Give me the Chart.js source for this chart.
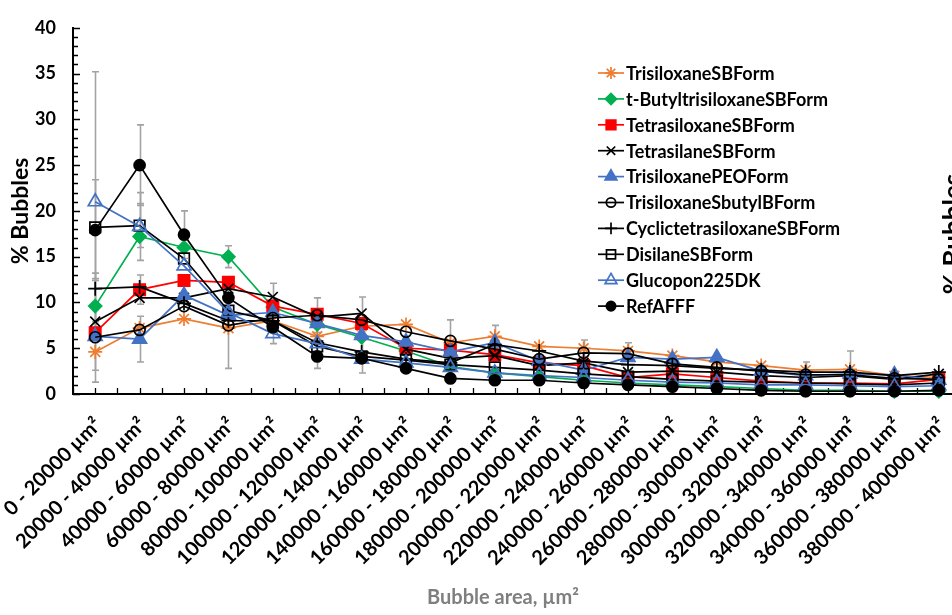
<!DOCTYPE html>
<html>
<head>
<meta charset="utf-8">
<script src="https://cdn.jsdelivr.net/npm/chart.js@4/dist/chart.umd.min.js"></script>
<style>
  html, body { margin: 0; padding: 0; background: #fff; width: 952px; height: 615px; overflow: hidden; }
  #wrap { position: relative; width: 975px; height: 615px; }
</style>
</head>
<body>
<div id="wrap"><canvas id="c" width="975" height="615"></canvas></div>
<script>
// Bubble area classes
const categories = [
  '0 - 20000 µm²', '20000 - 40000 µm²', '40000 - 60000 µm²', '60000 - 80000 µm²',
  '80000 - 100000 µm²', '100000 - 120000 µm²', '120000 - 140000 µm²', '140000 - 160000 µm²',
  '160000 - 180000 µm²', '180000 - 200000 µm²', '200000 - 220000 µm²', '220000 - 240000 µm²',
  '240000 - 260000 µm²', '260000 - 280000 µm²', '280000 - 300000 µm²', '300000 - 320000 µm²',
  '320000 - 340000 µm²', '340000 - 360000 µm²', '360000 - 380000 µm²', '380000 - 400000 µm²'
];

// Percentage of bubbles per area class
const trisiloxaneSB      = [4.6, 7.2, 8.2, 7.2, 8.0, 6.3, 7.4, 7.6, 5.6, 6.3, 5.2, 5.0, 4.7, 4.2, 3.5, 3.1, 2.6, 2.7, 2.0, 1.8];
const tButyltrisiloxane  = [9.6, 17.2, 16.0, 15.0, 9.5, 7.6, 6.2, 4.7, 3.0, 2.3, 1.9, 1.5, 1.2, 1.0, 0.8, 0.6, 0.4, 0.4, 0.3, 0.3];
const tetrasiloxaneSB    = [6.7, 11.4, 12.4, 12.2, 9.6, 8.7, 7.7, 5.0, 4.8, 4.3, 3.4, 3.1, 1.8, 2.2, 1.8, 1.4, 1.2, 1.2, 1.1, 1.6];
const tetrasilaneSB      = [7.9, 10.5, 10.5, 11.5, 10.6, 8.4, 8.8, 4.9, 3.9, 4.2, 3.1, 3.4, 2.4, 2.5, 2.4, 2.0, 1.8, 2.0, 1.6, 2.2];
const trisiloxanePEO     = [6.3, 6.0, 10.8, 8.6, 8.9, 7.7, 6.4, 5.7, 4.6, 5.6, 3.6, 2.6, 4.0, 3.8, 4.0, 2.5, 2.0, 2.2, 2.1, 1.5];
const trisiloxaneSbutylB = [6.2, 7.0, 9.6, 7.5, 8.3, 8.6, 8.1, 6.8, 5.8, 4.9, 3.8, 4.5, 4.4, 3.3, 2.9, 2.5, 2.1, 2.1, 1.7, 1.6];
const cyclictetrasiloxaneSB = [11.5, 11.7, 9.9, 8.0, 8.0, 5.6, 4.6, 3.8, 3.4, 5.4, 4.7, 3.6, 3.2, 3.1, 2.8, 2.6, 2.4, 2.4, 2.0, 2.4];
const disilaneSB         = [18.2, 18.4, 14.8, 9.1, 8.0, 5.2, 4.1, 3.7, 3.2, 2.9, 2.6, 2.2, 1.9, 1.6, 1.4, 1.3, 1.2, 1.1, 1.0, 1.2];
const glucopon225DK      = [21.0, 18.3, 14.0, 8.9, 6.6, 5.5, 3.8, 3.4, 2.9, 2.3, 2.0, 1.8, 1.5, 1.3, 1.2, 1.0, 1.0, 0.9, 0.8, 0.9];
const refAFFF            = [17.9, 25.0, 17.4, 10.5, 7.3, 4.1, 3.9, 2.8, 1.7, 1.5, 1.5, 1.2, 1.0, 0.8, 0.6, 0.4, 0.3, 0.3, 0.3, 0.4];

// Standard deviations (null = no bar shown)
const trisiloxaneSBErr      = [3.3, null, null, 4.4, null, null, null, null, null, 1.2, null, 0.9, 0.9, null, null, null, null, 2.0, null, null];
const tButyltrisiloxaneErr  = [3.0, null, null, 1.2, null, null, null, null, null, null, null, null, null, null, null, null, null, null, null, null];
const tetrasiloxaneSBErr    = [null, 1.6, null, null, null, null, null, null, null, null, null, null, null, null, null, null, null, null, null, null];
const tetrasilaneSBErr      = [5.3, null, null, null, 1.5, null, 1.8, null, null, null, null, null, null, null, null, null, null, null, null, null];
const trisiloxanePEOErr     = [null, 2.5, null, null, null, null, null, null, null, null, null, null, null, null, null, null, null, null, null, null];
const trisiloxaneSbutylBErr = [null, null, null, null, null, 1.9, null, null, 2.3, null, null, null, null, null, null, null, null, null, null, null];
const cyclictetrasiloxaneSBErr = [null, null, null, null, null, null, null, null, null, null, null, null, null, null, null, null, 1.1, null, null, null];
const disilaneSBErr         = [null, 2.4, null, null, null, null, 1.8, null, null, null, null, null, null, null, null, null, null, null, null, null];
const glucopon225DKErr      = [14.2, 3.7, null, null, 1.1, null, null, null, null, null, null, null, null, null, null, null, null, null, null, null];
const refAFFFErr            = [5.5, 4.4, 2.6, null, null, 1.3, null, null, null, null, null, null, null, null, null, null, null, null, null, null];

const yTickValues = [0, 5, 10, 15, 20, 25, 30, 35, 40];

const seriesDefs = [
  { label: 'TrisiloxaneSBForm',           data: trisiloxaneSB,        errors: trisiloxaneSBErr,        color: '#ED7D31', style: 'star',     fill: false, r: 7 },
  { label: 't-ButyltrisiloxaneSBForm',    data: tButyltrisiloxane,    errors: tButyltrisiloxaneErr,    color: '#00B050', style: 'rectRot',  fill: true,  r: 6.5 },
  { label: 'TetrasiloxaneSBForm',         data: tetrasiloxaneSB,      errors: tetrasiloxaneSBErr,      color: '#FF0000', style: 'rect',     fill: true,  r: 8 },
  { label: 'TetrasilaneSBForm',           data: tetrasilaneSB,        errors: tetrasilaneSBErr,        color: '#000000', style: 'crossRot', fill: false, r: 7 },
  { label: 'TrisiloxanePEOForm',          data: trisiloxanePEO,       errors: trisiloxanePEOErr,       color: '#4472C4', style: 'triangle', fill: true,  r: 8 },
  { label: 'TrisiloxaneSbutylBForm',      data: trisiloxaneSbutylB,   errors: trisiloxaneSbutylBErr,   color: '#000000', style: 'circle',   fill: false, r: 5.5 },
  { label: 'CyclictetrasiloxaneSBForm',   data: cyclictetrasiloxaneSB, errors: cyclictetrasiloxaneSBErr, color: '#000000', style: 'cross',  fill: false, r: 7 },
  { label: 'DisilaneSBForm',              data: disilaneSB,           errors: disilaneSBErr,           color: '#000000', style: 'rect',     fill: false, r: 7.5 },
  { label: 'Glucopon225DK',               data: glucopon225DK,        errors: glucopon225DKErr,        color: '#4472C4', style: 'triangle', fill: false, r: 8 },
  { label: 'RefAFFF',                     data: refAFFF,              errors: refAFFFErr,              color: '#000000', style: 'circle',   fill: true,  r: 5.5 }
];

const FONT = 'Lato, "Open Sans", sans-serif';

const datasets = seriesDefs.map((s, i) => ({
  label: s.label,
  data: s.data,
  errors: s.errors,
  borderColor: s.color,
  backgroundColor: s.color,
  borderWidth: 1.7,
  tension: 0,
  pointStyle: s.style,
  pointRadius: s.r,
  pointHoverRadius: s.r,
  pointBorderWidth: 1.7,
  pointBorderColor: s.color,
  pointBackgroundColor: s.fill ? s.color : 'rgba(0,0,0,0)',
  clip: false,
  order: seriesDefs.length - i
}));

// Inside tick marks: y every unit (longer every 5), x at category centres and boundaries
const axisTicks = {
  id: 'axisTicks',
  beforeDatasetsDraw(chart) {
    const { ctx, chartArea: a, scales: { x, y } } = chart;
    ctx.save();
    ctx.strokeStyle = '#000';
    ctx.lineWidth = 1.3;
    ctx.beginPath();
    for (let v = y.min; v <= y.max; v += 1) {
      const py = Math.round(y.getPixelForValue(v)) + 0.5;
      const len = v % 5 === 0 ? 7 : 5;
      ctx.moveTo(a.left, py);
      ctx.lineTo(a.left + len, py);
    }
    const half = (x.getPixelForValue(1) - x.getPixelForValue(0)) / 2;
    for (let k = 0; k <= categories.length * 2; k++) {
      const px = Math.round(x.getPixelForValue(0) - half + k * half) + 0.5;
      ctx.moveTo(px, a.bottom);
      ctx.lineTo(px, a.bottom - 6);
    }
    ctx.stroke();
    ctx.restore();
  }
};

// Grey error bars with caps
const errorBars = {
  id: 'errorBars',
  beforeDatasetsDraw(chart) {
    const { ctx, scales: { x, y } } = chart;
    ctx.save();
    ctx.strokeStyle = '#a3a3a3';
    ctx.lineWidth = 1.6;
    chart.data.datasets.forEach(ds => {
      if (!ds.errors) return;
      ds.errors.forEach((e, i) => {
        if (e == null) return;
        const v = ds.data[i];
        const px = Math.round(x.getPixelForValue(i)) + 0.5;
        const top = y.getPixelForValue(v + e);
        const bot = y.getPixelForValue(Math.max(v - e, 0));
        ctx.beginPath();
        ctx.moveTo(px, top); ctx.lineTo(px, bot);
        ctx.moveTo(px - 3.5, top); ctx.lineTo(px + 3.5, top);
        ctx.moveTo(px - 3.5, bot); ctx.lineTo(px + 3.5, bot);
        ctx.stroke();
      });
    });
    ctx.restore();
  }
};

// Legend box inside the plot, plus axis title and neighbouring panel title
const overlay = {
  id: 'overlay',
  afterDraw(chart) {
    const { ctx } = chart;
    ctx.save();
    const lx = 598, ly = 73, step = 25.9;
    chart.data.datasets.forEach((ds, i) => {
      const yy = ly + i * step;
      ctx.strokeStyle = ds.borderColor;
      ctx.lineWidth = 1.7;
      ctx.beginPath();
      ctx.moveTo(lx, yy); ctx.lineTo(lx + 26, yy);
      ctx.stroke();
      ctx.fillStyle = ds.pointBackgroundColor;
      ctx.strokeStyle = ds.pointBorderColor;
      Chart.helpers.drawPoint(ctx, {
        pointStyle: ds.pointStyle, rotation: 0,
        radius: ds.pointRadius * 0.85, borderWidth: 1.7
      }, lx + 13, yy);
      ctx.fillStyle = '#000';
      ctx.font = 'bold 18px ' + FONT;
      ctx.textAlign = 'left';
      ctx.textBaseline = 'middle';
      ctx.fillText(ds.label, lx + 28, yy + 1);
    });

    ctx.fillStyle = '#7f7f7f';
    ctx.font = 'bold 20px ' + FONT;
    ctx.textAlign = 'center';
    ctx.textBaseline = 'middle';
    ctx.fillText('Bubble area, µm²', 503, 598);

    ctx.fillStyle = '#000';
    ctx.font = 'bold 26px ' + FONT;
    ctx.translate(962, 234);
    ctx.rotate(-Math.PI / 2);
    ctx.textAlign = 'center';
    ctx.textBaseline = 'alphabetic';
    ctx.fillText('% Bubbles', 0, 0);
    ctx.restore();
  }
};

new Chart(document.getElementById('c'), {
  type: 'line',
  data: { labels: categories, datasets },
  plugins: [axisTicks, errorBars, overlay],
  options: {
    responsive: false,
    animation: false,
    devicePixelRatio: 1,
    layout: { padding: { top: 17, right: 14, left: 0, bottom: 0 } },
    plugins: { legend: { display: false }, tooltip: { enabled: false } },
    scales: {
      x: {
        type: 'category',
        offset: true,
        grid: { display: false, drawTicks: false },
        border: { display: true, color: '#000', width: 2 },
        ticks: {
          autoSkip: false,
          minRotation: 45,
          maxRotation: 45,
          padding: 19,
          labelOffset: 3,
          color: '#000',
          font: { family: FONT, size: 20, weight: 'bold' }
        },
        afterFit(scale) { scale.height = 221; scale.paddingLeft = 0; scale.paddingRight = 0; }
      },
      y: {
        min: 0,
        max: 40,
        afterBuildTicks(scale) { scale.ticks = yTickValues.map(v => ({ value: v })); },
        grid: { display: false, drawTicks: false },
        border: { display: true, color: '#000', width: 2 },
        ticks: {
          padding: 17,
          color: '#000',
          font: { family: FONT, size: 18, weight: 'bold' }
        },
        title: {
          display: true,
          text: '% Bubbles',
          color: '#000',
          padding: { top: 7, bottom: 0 },
          font: { family: FONT, size: 23, weight: 'bold' }
        },
        afterFit(scale) { scale.width = 73; }
      }
    }
  }
});
</script>
</body>
</html>
